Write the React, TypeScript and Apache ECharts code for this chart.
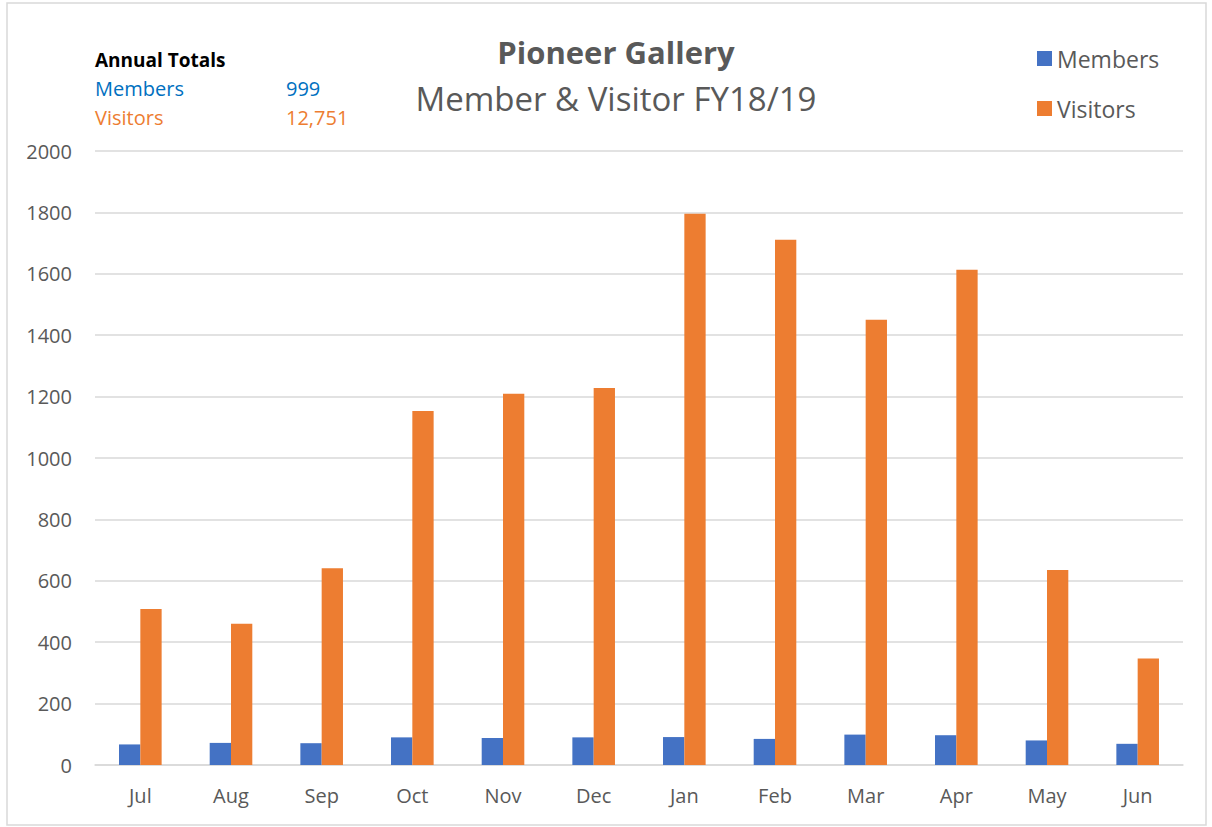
import React, { useEffect, useRef } from "react";
import * as echarts from "echarts";

const months = ["Jul", "Aug", "Sep", "Oct", "Nov", "Dec", "Jan", "Feb", "Mar", "Apr", "May", "Jun"];
const members = [67, 72, 71, 90, 88, 90, 91, 85, 99, 97, 80, 69];
const visitors = [508, 460, 641, 1153, 1209, 1228, 1796, 1711, 1450, 1613, 635, 347];
const totalsLabels = ["Members", "Visitors"];
const totalsValues = ["999", "12,751"];
const titleText = "Pioneer Gallery";
const subtitleText = "Member & Visitor FY18/19";

const FONT = "'Open Sans', Lato, sans-serif";
const GREY = "#595959";
const BLUE = "#4472C4";
const ORANGE = "#ED7D31";

export default function App() {
  const ref = useRef<HTMLDivElement>(null);
  useEffect(() => {
    if (!ref.current) return;
    const chart = echarts.init(ref.current, undefined, { renderer: "svg" });
    chart.setOption({
      animation: false,
      backgroundColor: "#ffffff",
      textStyle: { fontFamily: FONT },
      legend: {
        orient: "vertical",
        left: 1032,
        top: 42,
        itemWidth: 15,
        itemHeight: 15,
        itemGap: 27,
        icon: "rect",
        textStyle: { fontFamily: FONT, fontSize: 23, color: GREY },
        data: ["Members", "Visitors"],
      },
      graphic: [
        {
          type: "rect",
          shape: { x: 7, y: 3, width: 1199, height: 822 },
          style: { fill: "none", stroke: "#D9D9D9", lineWidth: 1.5 },
          silent: true,
        },
        {
          type: "text",
          x: 616,
          y: 52,
          style: {
            text: titleText,
            font: `bold 31px ${FONT}`,
            fill: GREY,
            align: "center",
            verticalAlign: "middle",
          },
        },
        {
          type: "text",
          x: 616,
          y: 98,
          style: {
            text: subtitleText,
            font: `33px ${FONT}`,
            fill: GREY,
            align: "center",
            verticalAlign: "middle",
          },
        },
        {
          type: "text",
          left: 95,
          top: 50,
          style: { text: "Annual Totals", font: `bold 19px ${FONT}`, fill: "#000000" },
        },
        {
          type: "text",
          left: 95,
          top: 78,
          style: { text: totalsLabels[0], font: `20px ${FONT}`, fill: "#0070C0" },
        },
        {
          type: "text",
          left: 286,
          top: 78,
          style: { text: totalsValues[0], font: `20px ${FONT}`, fill: "#0070C0" },
        },
        {
          type: "text",
          left: 95,
          top: 107,
          style: { text: totalsLabels[1], font: `20px ${FONT}`, fill: ORANGE },
        },
        {
          type: "text",
          left: 286,
          top: 107,
          style: { text: totalsValues[1], font: `20px ${FONT}`, fill: ORANGE },
        },
      ],
      grid: { left: 95, right: 29, top: 151, bottom: 62, containLabel: false },
      xAxis: {
        type: "category",
        data: months,
        axisLine: { lineStyle: { color: "#D9D9D9", width: 1.5 } },
        axisTick: { show: false },
        axisLabel: { fontFamily: FONT, fontSize: 20, color: GREY, margin: 20 },
      },
      yAxis: {
        type: "value",
        min: 0,
        max: 2000,
        interval: 200,
        axisLine: { show: false },
        axisTick: { show: false },
        splitLine: { lineStyle: { color: "#D9D9D9", width: 1.5 } },
        axisLabel: {
          fontFamily: FONT,
          fontSize: 20,
          color: GREY,
          margin: 23,
          formatter: (v: number) => String(v),
        },
      },
      series: [
        {
          name: "Members",
          type: "bar",
          data: members,
          barWidth: "23.5%",
          barGap: "0%",
          itemStyle: { color: BLUE },
        },
        {
          name: "Visitors",
          type: "bar",
          data: visitors,
          barWidth: "23.5%",
          barGap: "0%",
          itemStyle: { color: ORANGE },
        },
      ],
    });
    return () => chart.dispose();
  }, []);
  return (
    <div
      ref={ref}
      style={{ position: "fixed", left: 0, top: 0, width: 1212, height: 827 }}
    />
  );
}
